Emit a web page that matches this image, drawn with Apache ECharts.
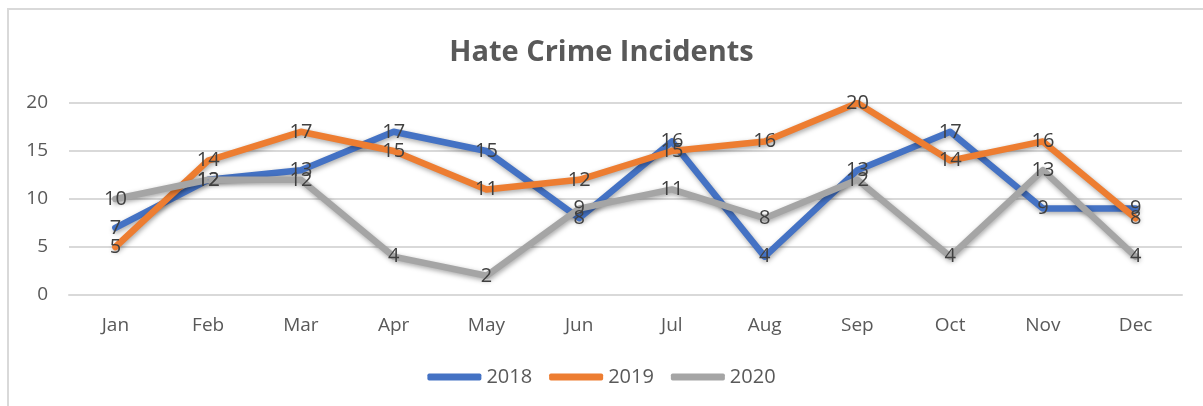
<!DOCTYPE html>
<html>
<head>
<meta charset="utf-8">
<script src="https://cdn.jsdelivr.net/npm/echarts@6/dist/echarts.min.js"></script>
<style>
  html, body { margin: 0; padding: 0; background: #fff; }
  #chart { width: 1203px; height: 406px; }
</style>
</head>
<body>
<div id="chart"></div>
<script>
const months = ['Jan', 'Feb', 'Mar', 'Apr', 'May', 'Jun', 'Jul', 'Aug', 'Sep', 'Oct', 'Nov', 'Dec'];
const incidents2018 = [7, 12, 13, 17, 15, 8, 16, 4, 13, 17, 9, 9];
const incidents2019 = [5, 14, 17, 15, 11, 12, 15, 16, 20, 14, 16, 8];
const incidents2020 = [10, 12, 12, 4, 2, 9, 11, 8, 12, 4, 13, 4];
const yTicks = [0, 5, 10, 15, 20];

const FONT = '"Open Sans", "Liberation Sans", sans-serif';

function lineSeries(name, data, color) {
  return {
    name: name,
    type: 'line',
    data: data,
    symbol: 'circle',
    symbolSize: 1,
    showSymbol: true,
    itemStyle: { color: color },
    lineStyle: {
      color: color,
      width: 6.5,
      cap: 'round',
      join: 'round',
      shadowColor: 'rgba(0,0,0,0.35)',
      shadowBlur: 5,
      shadowOffsetX: 1,
      shadowOffsetY: 2
    },
    label: {
      show: true,
      position: 'inside',
      color: '#404040',
      fontFamily: FONT,
      fontSize: 20
    },
    emphasis: { disabled: true },
    animation: false
  };
}

const chart = echarts.init(document.getElementById('chart'), null, { renderer: 'canvas' });
chart.setOption({
  backgroundColor: '#ffffff',
  animation: false,
  title: {
    text: 'Hate Crime Incidents',
    left: 'center',
    top: 33,
    textStyle: {
      fontFamily: FONT,
      fontSize: 29,
      fontWeight: 'bold',
      color: '#595959'
    }
  },
  graphic: [
    { type: 'line', shape: { x1: 7, y1: 9, x2: 1203, y2: 9 }, style: { stroke: '#d9d9d9', lineWidth: 2 } },
    { type: 'line', shape: { x1: 8, y1: 8, x2: 8, y2: 406 }, style: { stroke: '#d9d9d9', lineWidth: 2 } }
  ],
  legend: {
    bottom: 14,
    left: 'center',
    itemWidth: 54,
    itemHeight: 7,
    itemGap: 17,
    icon: 'roundRect',
    textStyle: { fontFamily: FONT, fontSize: 20, color: '#595959' },
    data: ['2018', '2019', '2020']
  },
  grid: { left: 69, right: 21, top: 103, bottom: 111, containLabel: false },
  xAxis: {
    type: 'category',
    data: months,
    boundaryGap: true,
    axisLine: { show: true, lineStyle: { color: '#d9d9d9', width: 2 } },
    axisTick: { show: false },
    axisLabel: { fontFamily: FONT, fontSize: 19, color: '#595959', margin: 21 }
  },
  yAxis: {
    type: 'value',
    min: yTicks[0],
    max: yTicks[yTicks.length - 1],
    interval: 5,
    axisLine: { show: false },
    axisTick: { show: false },
    axisLabel: { fontFamily: FONT, fontSize: 19, color: '#595959', margin: 21 },
    splitLine: { lineStyle: { color: '#d9d9d9', width: 2 } }
  },
  series: [
    lineSeries('2018', incidents2018, '#4472c4'),
    lineSeries('2019', incidents2019, '#ed7d31'),
    lineSeries('2020', incidents2020, '#a5a5a5')
  ]
});
</script>
</body>
</html>
